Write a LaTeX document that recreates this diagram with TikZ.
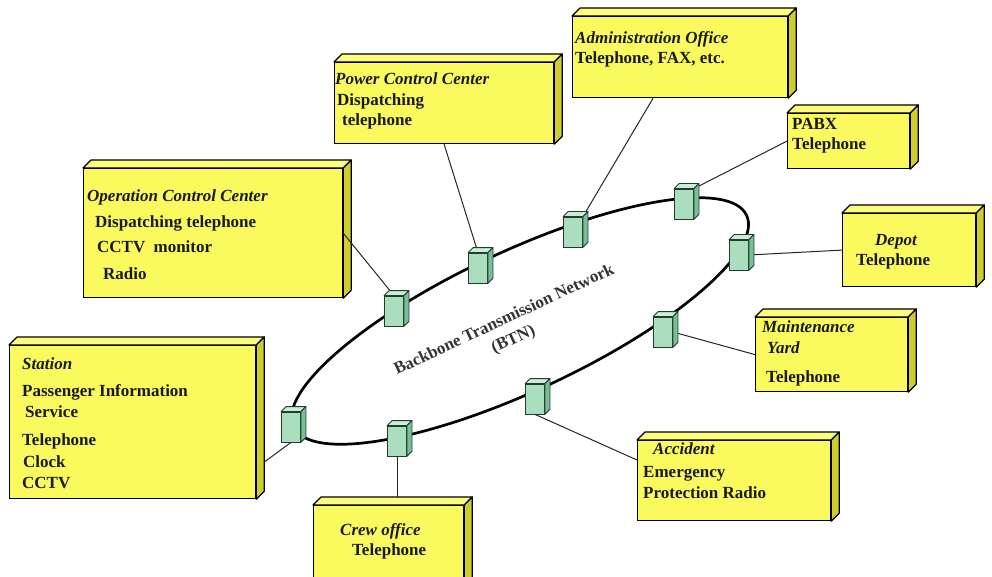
\documentclass[tikz,border=0pt]{standalone}
\usepackage{fontspec}
\setmainfont{Liberation Serif}
\usetikzlibrary{positioning}

\definecolor{unitfront}{RGB}{250,250,95}
\definecolor{unitside}{RGB}{205,205,45}
\definecolor{unittop}{RGB}{252,252,125}
\definecolor{hubfront}{RGB}{170,222,190}
\definecolor{hubside}{RGB}{120,190,150}
\definecolor{hubtop}{RGB}{200,238,214}
\definecolor{hubline}{RGB}{35,60,45}

\tikzset{
    unit/.style={draw=black,line width=1.2pt,fill=unitfront,inner sep=0pt,anchor=north west},
    hub/.style={draw=hubline,line width=0.8pt,fill=hubfront,inner sep=0pt,minimum width=19pt,minimum height=30pt},
    note/.style={font=\fontsize{17}{20.5}\selectfont\bfseries,align=left,anchor=north west,inner sep=0pt,text=black!90},
    ring/.style={black,line width=2.7pt},
    link/.style={black!85,line width=1pt}
}

% top and side faces of a box
\newcommand{\unitfaces}[1]{%
    \filldraw[draw=black,line width=1.2pt,line join=round,fill=unittop] (#1.north west) -- ++(8pt,8pt) -- ([shift={(8pt,8pt)}]#1.north east) -- (#1.north east) -- cycle;
    \filldraw[draw=black,line width=1.2pt,line join=round,fill=unitside] (#1.north east) -- ++(8pt,8pt) -- ([shift={(8pt,8pt)}]#1.south east) -- (#1.south east) -- cycle;
}
\newcommand{\hubfaces}[1]{%
    \filldraw[draw=hubline,line width=0.8pt,line join=round,fill=hubtop] (#1.north west) -- ++(5pt,5pt) -- ([shift={(5pt,5pt)}]#1.north east) -- (#1.north east) -- cycle;
    \filldraw[draw=hubline,line width=0.8pt,line join=round,fill=hubside] (#1.north east) -- ++(5pt,5pt) -- ([shift={(5pt,5pt)}]#1.south east) -- (#1.south east) -- cycle;
}

\begin{document}
\begin{tikzpicture}[x=1pt,y=-1pt]
\fill[white] (0,0) rectangle (992,577);
\useasboundingbox (0,0) rectangle (992,577);

% backbone ring
\draw[ring, rotate around={25:(520,321)}] (520,321) ellipse [x radius=250, y radius=70];

% access points on the ring
\node[hub] (hocc) at (394,311) {};
\node[hub] (hpcc) at (478,268) {};
\node[hub] (hadm) at (573,232) {};
\node[hub] (hpbx) at (684,204) {};
\node[hub] (hdep) at (739,255) {};
\node[hub] (hmnt) at (663,332) {};
\node[hub] (hacc) at (535,399) {};
\node[hub] (hcrw) at (397,441) {};
\node[hub] (hsta) at (291,427) {};

% boxes
\node[unit,minimum width=259pt,minimum height=129pt] (occ) at (83,168) {};
\node[unit,minimum width=246pt,minimum height=153pt] (sta) at (9,345) {};
\node[unit,minimum width=219pt,minimum height=81pt] (pcc) at (334,62) {};
\node[unit,minimum width=215pt,minimum height=81pt] (adm) at (572,16) {};
\node[unit,minimum width=122pt,minimum height=55pt] (pbx) at (787,113) {};
\node[unit,minimum width=133pt,minimum height=73pt] (dep) at (842,213) {};
\node[unit,minimum width=152pt,minimum height=74pt] (mnt) at (755,317) {};
\node[unit,minimum width=193pt,minimum height=80pt] (acc) at (637,440) {};
\node[unit,minimum width=150pt,minimum height=85pt] (crw) at (313,505) {};
\foreach \b in {occ,sta,pcc,adm,pbx,dep,mnt,acc,crw} {\unitfaces{\b}}

% links
\draw[link] (occ.east) -- (hocc.north);
\draw[link] (pcc.south) -- (hpcc.north);
\draw[link] ([xshift=-27pt]adm.south) -- (hadm.north east);
\draw[link] (pbx.west) -- (hpbx.north east);
\draw[link] (hdep.east) -- (dep.west);
\draw[link] (hmnt.east) -- (mnt.west);
\draw[link] (hacc.south) -- ([yshift=-20pt]acc.north west);
\draw[link] (hcrw.south) -- ([yshift=8pt]hcrw.south |- crw.north);
\draw[link] (hsta.south) -- ([xshift=8pt,yshift=-40pt]sta.east);

\foreach \h in {hocc,hpcc,hadm,hpbx,hdep,hmnt,hacc,hcrw,hsta} {\hubfaces{\h}}

% texts
\node[note] (occtext) at (87,190) {\textit{Operation Control Center}\\[5pt]
    \hspace*{8pt}Dispatching telephone\\[5pt]
    \hspace*{10pt}CCTV\hspace{4pt} monitor\\[6pt]
    \hspace*{16pt}Radio};
\node[note] (statext) at (22,357) {\textit{Station}\\[7.5pt]
    Passenger Information\\
    \hspace*{3pt}Service\\[7.5pt]
    Telephone\\[1.5pt]
    \hspace*{1pt}Clock\\
    CCTV};
\node[note] (pcctext) at (335,73) {\textit{Power Control Center}\\
    \hspace*{2pt}Dispatching\\
    \hspace*{7pt}telephone};
\node[note] (admtext) at (575,31) {\textit{Administration Office}\\
    Telephone, FAX, etc.};
\node[note] (pbxtext) at (792,118) {PABX\\Telephone};
\node[note] (deptext) at (856,234) {\hspace*{19pt}\textit{Depot}\\Telephone};
\node[note] (mnttext) at (762,321) {\textit{Maintenance}\\
    \hspace*{5pt}\textit{Yard}\\[8.5pt]
    \hspace*{4pt}Telephone};
\node[note] (acctext) at (643,443) {\hspace*{10pt}\textit{Accident}\\[2.5pt]
    Emergency\\
    Protection Radio};
\node[note] (crwtext) at (340,523) {\textit{Crew office}\\
    \hspace*{12pt}Telephone};

\node[font=\fontsize{17}{20.5}\selectfont\bfseries,align=center,text=black!80,rotate=25] (btn) at (509,330) {Backbone Transmission Network\\[1pt](BTN)};
\end{tikzpicture}
\end{document}
